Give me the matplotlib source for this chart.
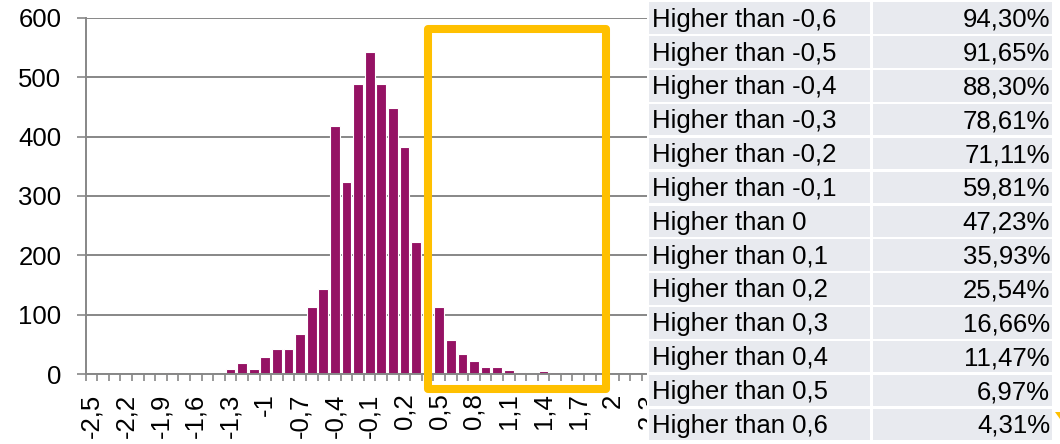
import numpy as np
import matplotlib.pyplot as plt
from matplotlib.patches import Rectangle, Polygon

plt.rcParams['font.family'] = ['Liberation Sans', 'DejaVu Sans']

# Histogram classes and counts
classes = [-2.5, -2.4, -2.3, -2.2, -2.1, -2.0, -1.9, -1.8, -1.7, -1.6,
           -1.5, -1.4, -1.3, -1.2, -1.1, -1.0, -0.9, -0.8, -0.7, -0.6,
           -0.5, -0.4, -0.3, -0.2, -0.1, 0.0, 0.1, 0.2, 0.3, 0.4,
           0.5, 0.6, 0.7, 0.8, 0.9, 1.0, 1.1, 1.2, 1.3, 1.4,
           1.5, 1.6, 1.7, 1.8, 1.9, 2.0, 2.1, 2.2, 2.3, 2.4, 2.5]
counts = [0, 0, 0, 0, 0, 0, 0, 3, 0, 0,
          2, 0, 9, 19, 9, 29, 42, 42, 68, 113,
          143, 418, 323, 488, 543, 488, 448, 383, 223, 193,
          113, 58, 33, 22, 12, 12, 7, 3, 0, 5,
          3, 3, 0, 0, 0, 0, 0, 0, 0, 0, 0]

# Cumulative table on the right
thresholds = [-0.6, -0.5, -0.4, -0.3, -0.2, -0.1, 0.0, 0.1, 0.2, 0.3, 0.4, 0.5, 0.6]
shares = [94.30, 91.65, 88.30, 78.61, 71.11, 59.81, 47.23,
          35.93, 25.54, 16.66, 11.47, 6.97, 4.31]

W, H = 1060, 444
fig = plt.figure(figsize=(W / 100, H / 100), dpi=100)


def fx(px):
    return px / W


def fy(py):
    return 1 - py / H


def comma(v):
    return f"{v:g}".replace('.', ',')


grey = '#878787'
x0, step = 85.7, 11.59
ax = fig.add_axes([fx(x0), fy(374), len(classes) * step / W, (374 - 18) / H])

x = np.arange(len(classes))
ax.bar(x, counts, width=0.84, color='#951264', edgecolor='white', linewidth=0.8, zorder=2)
ax.set_xlim(-0.5, len(classes) - 0.5)
ax.set_ylim(0, 600)
ax.set_yticks(range(0, 601, 100))
ax.yaxis.grid(True, color=grey, linewidth=1.4)
ax.set_axisbelow(True)
for s in ['top', 'right']:
    ax.spines[s].set_visible(False)
for s in ['left', 'bottom']:
    ax.spines[s].set_color(grey)
    ax.spines[s].set_linewidth(1.4)

ax.tick_params(axis='y', length=6.5, width=1.2, color=grey, pad=11, labelsize=18.5)
ax.set_xticks(x[::3])
ax.set_xticklabels([comma(c) for c in classes[::3]], rotation=90)
ax.set_xticks(np.arange(len(classes) + 1) - 0.5, minor=True)
ax.tick_params(axis='x', which='major', length=0, pad=14, labelsize=18.5)
ax.tick_params(axis='x', which='minor', length=5, width=1.2, color=grey)

# table
fig.add_artist(Rectangle((fx(647), 0), 1 - fx(647), 1, transform=fig.transFigure,
                         facecolor='white', edgecolor='none', zorder=3))
row_h, top = 33.85, 2.5
for i, (t, s) in enumerate(zip(thresholds, shares)):
    y0 = top + i * row_h
    y1 = y0 + row_h - 2.5
    for left, right in [(649, 870), (873, 1052)]:
        fig.add_artist(Rectangle((fx(left), fy(y1)), (right - left) / W, (y1 - y0) / H,
                                 transform=fig.transFigure, facecolor='#E8EAEF',
                                 edgecolor='none', zorder=3))
    fig.text(fx(652), fy(y0 + 24.2), f"Higher than {comma(t)}", fontsize=18.5,
             ha='left', va='baseline', zorder=4)
    fig.text(fx(1050), fy(y0 + 24.2), f"{s:.2f}%".replace('.', ','), fontsize=18.5,
             ha='right', va='baseline', zorder=4)

# highlight box
fig.add_artist(Rectangle((fx(428), fy(389)), (606 - 428) / W, (389 - 29) / H,
                         transform=fig.transFigure, fill=False, edgecolor='#FFC000',
                         linewidth=5.8, joinstyle='round', zorder=5))
fig.add_artist(Polygon([(fx(1055), fy(412)), (fx(1060), fy(412)), (fx(1060), fy(419))],
                       closed=True, transform=fig.transFigure, facecolor='#FFC000',
                       edgecolor='none', zorder=5))

fig.savefig('out.png', dpi=100)
